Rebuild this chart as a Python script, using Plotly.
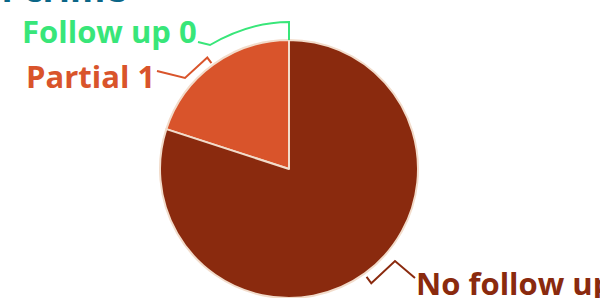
import math
import plotly.graph_objects as go

labels = ["Follow up", "Partial", "No follow up"]
values = [0, 1, 4]
colors = ["#38e679", "#d9542b", "#8a2a0e"]

W, H = 600, 298
CX, CY, R = 289, 170, 129

def px(x, y):
    return x / W, 1 - y / H

total = sum(values)
mids = []
acc = 0
for v in values:
    mids.append((acc + v / 2) / total * 360)
    acc += v

def rim(theta, rho):
    t = math.radians(theta)
    return CX - rho * math.sin(t), CY - rho * math.cos(t)

fig = go.Figure()
fig.add_trace(go.Pie(
    labels=labels, values=values, sort=False, direction="counterclockwise",
    rotation=0, textinfo="none", hoverinfo="label+value",
    marker=dict(colors=colors, line=dict(color="#f2dccb", width=2)),
    domain=dict(x=[(CX - R) / W, (CX + R) / W], y=[0, 2 * R / H]),
    showlegend=False,
))

label_layout = [
    dict(x=199, y=31, xa="right", path=[(198, 42), (210, 45)], stub=19, curve=True),
    dict(x=157, y=76, xa="right", path=[(157, 71), (185, 78)], stub=10, curve=False),
    dict(x=414, y=283, xa="left", path=[(415, 278), (395, 261)], stub=11, curve=False),
]

shapes = []
annotations = []
font = "Open Sans"
for i, (lab, v, c) in enumerate(zip(labels, values, colors)):
    L = label_layout[i]
    p0 = rim(mids[i], R + 1 if L["curve"] else R + 3)
    p1 = rim(mids[i], R + L["stub"])
    pts = L["path"]
    if L["curve"]:
        a, b = pts
        ctrl = (250, 22)
        d = "M %f %f L %f %f Q %f %f %f %f L %f %f" % (
            *px(*a), *px(*b), *px(*ctrl), *px(*p1), *px(*p0))
    else:
        seq = pts + [p1, p0]
        d = "M %f %f" % px(*seq[0]) + "".join(" L %f %f" % px(*q) for q in seq[1:])
    shapes.append(dict(type="path", xref="paper", yref="paper", path=d,
                       line=dict(color=c, width=2)))
    ax, ay = px(L["x"], L["y"])
    annotations.append(dict(x=ax, y=ay, xref="paper", yref="paper", xanchor=L["xa"],
                            yanchor="middle", showarrow=False,
                            text="<b>%s %d</b>" % (lab, v),
                            font=dict(family=font, size=31, color=c)))

tx, ty = px(129, 15)
annotations.append(dict(x=tx, y=ty, xref="paper", yref="paper", xanchor="right",
                        yanchor="bottom", showarrow=False,
                        text="<b>Follow-up of crime</b>",
                        font=dict(family=font, size=36, color="#0b6687")))

fig.update_layout(width=W, height=H, margin=dict(l=0, r=0, t=0, b=0),
                  paper_bgcolor="white", plot_bgcolor="white",
                  shapes=shapes, annotations=annotations)
fig.write_html("out.html", config={"displayModeBar": False},
               post_script="document.body.style.margin='0';document.body.style.overflow='hidden';")
